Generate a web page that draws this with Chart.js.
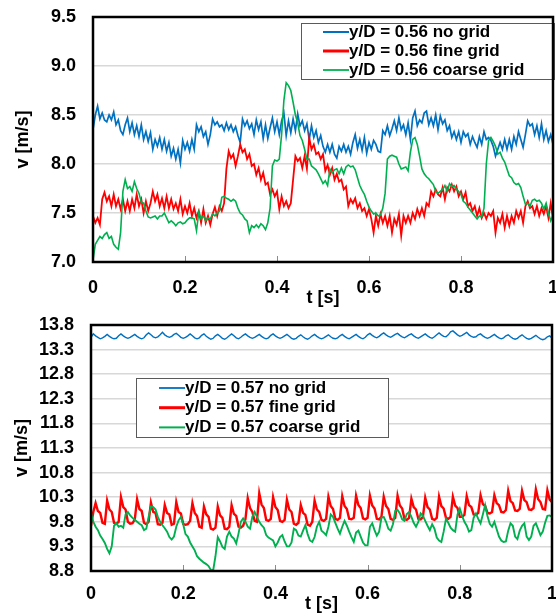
<!DOCTYPE html>
<html>
<head>
<meta charset="utf-8">
<script src="https://cdn.jsdelivr.net/npm/chart.js@4.4.1/dist/chart.umd.min.js"></script>
<style>
  html, body { margin: 0; padding: 0; background: #fff; }
  #wrap { position: relative; width: 556px; height: 616px; overflow: hidden; }
  canvas { position: absolute; left: 0; }
  #chartTop { top: 0; }
  #chartBottom { top: 300px; }
</style>
</head>
<body>
<div id="wrap">
  <canvas id="chartTop" width="556" height="310"></canvas>
  <canvas id="chartBottom" width="556" height="316"></canvas>
</div>
<script>
// sample times, 5 ms apart
const sampleStep = 0.005;
const t = Array.from({ length: 201 }, (_, i) => +(i * sampleStep).toFixed(3));

const xTicks = [0, 0.2, 0.4, 0.6, 0.8, 1];
const topYTicks = [7.0, 7.5, 8.0, 8.5, 9.0, 9.5];
const bottomYTicks = [8.8, 9.3, 9.8, 10.3, 10.8, 11.3, 11.8, 12.3, 12.8, 13.3, 13.8];

const topLabels = ['y/D = 0.56 no grid', 'y/D = 0.56 fine grid', 'y/D = 0.56 coarse grid'];
const bottomLabels = ['y/D = 0.57 no grid', 'y/D = 0.57 fine grid', 'y/D = 0.57 coarse grid'];

// y/D = 0.56
const topNoGrid = [
  8.35, 8.5, 8.59, 8.46, 8.52, 8.45, 8.43, 8.5, 8.45, 8.53, 8.4,
  8.45, 8.34, 8.3, 8.4, 8.47, 8.33, 8.42, 8.3, 8.39, 8.28,
  8.4, 8.25, 8.33, 8.23, 8.32, 8.15, 8.25, 8.18, 8.27, 8.15,
  8.25, 8.13, 8.22, 8.08, 8.16, 8.05, 8.15, 8.01, 8.24, 8.15,
  8.22, 8.13, 8.25, 8.15, 8.4, 8.33, 8.38, 8.28, 8.33, 8.2,
  8.3, 8.46, 8.4, 8.43, 8.38, 8.4, 8.34, 8.42, 8.35, 8.4,
  8.33, 8.38, 8.29, 8.22, 8.46, 8.39, 8.44, 8.36, 8.41, 8.3,
  8.45, 8.35, 8.43, 8.26, 8.4, 8.26, 8.37, 8.47, 8.33, 8.43,
  8.3, 8.44, 8.52, 8.29, 8.44, 8.32, 8.46, 8.34, 8.51, 8.39,
  8.44, 8.34, 8.41, 8.25, 8.39, 8.27, 8.34, 8.22, 8.29, 8.18,
  8.12, 8.2, 8.12, 8.2, 8.1, 8.06, 8.18, 8.13, 8.2, 8.12,
  8.18, 8.1, 8.22, 8.3, 8.16, 8.25, 8.14, 8.27, 8.11, 8.22,
  8.15, 8.24, 8.2, 8.13, 8.12, 8.34, 8.3, 8.39, 8.29, 8.36,
  8.44, 8.34, 8.47, 8.35, 8.4, 8.3, 8.42, 8.25, 8.47, 8.54,
  8.39, 8.45, 8.42, 8.52, 8.54, 8.4, 8.47, 8.39, 8.5, 8.35,
  8.49, 8.41, 8.45, 8.34, 8.39, 8.27, 8.33, 8.25, 8.33, 8.22,
  8.33, 8.28, 8.31, 8.2, 8.28, 8.22, 8.17, 8.28, 8.2, 8.33,
  8.25, 8.27, 8.24, 8.18, 8.08, 8.15, 8.22, 8.15, 8.25, 8.15,
  8.25, 8.15, 8.28, 8.2, 8.33, 8.25, 8.17, 8.3, 8.44, 8.39,
  8.41, 8.3, 8.39, 8.27, 8.41, 8.25, 8.34, 8.23, 8.3, 8.2
];
const topFine = [
  7.47, 7.4, 7.45, 7.38, 7.64, 7.71, 7.62, 7.67, 7.57, 7.69, 7.57,
  7.64, 7.54, 7.64, 7.52, 7.62, 7.52, 7.64, 7.55, 7.69, 7.57,
  7.64, 7.5, 7.62, 7.52, 7.6, 7.72, 7.62, 7.69, 7.57, 7.65,
  7.55, 7.67, 7.55, 7.64, 7.54, 7.6, 7.52, 7.64, 7.49, 7.57,
  7.5, 7.6, 7.47, 7.55, 7.45, 7.52, 7.4, 7.54, 7.4, 7.47,
  7.38, 7.49, 7.56, 7.47, 7.57, 7.52, 7.6, 7.95, 8.13, 8.06,
  8.1, 7.98, 8.08, 8.2, 8.12, 8.15, 8.05, 8.1, 7.98, 8.0,
  7.89, 7.96, 7.84, 7.91, 7.79, 7.81, 7.69, 7.74, 7.67, 7.72,
  7.54, 7.67, 7.57, 7.62, 7.55, 7.6, 7.84, 8.08, 8.03, 8.06,
  7.96, 8.08, 7.95, 8.27, 8.15, 8.2, 8.1, 8.12, 8.05, 8.1,
  7.93, 7.99, 7.89, 7.96, 7.84, 7.9, 7.82, 7.84, 7.74, 7.77,
  7.57, 7.64, 7.6, 7.65, 7.55, 7.6, 7.52, 7.55, 7.47, 7.54,
  7.44, 7.3, 7.47, 7.37, 7.49, 7.4, 7.47, 7.37, 7.47, 7.3,
  7.44, 7.38, 7.49, 7.27, 7.47, 7.4, 7.47, 7.4, 7.5, 7.44,
  7.54, 7.47, 7.55, 7.47, 7.6, 7.57, 7.72, 7.67, 7.74, 7.69,
  7.67, 7.76, 7.64, 7.76, 7.72, 7.79, 7.72, 7.77, 7.67, 7.72,
  7.64, 7.71, 7.57, 7.6, 7.52, 7.57, 7.47, 7.55, 7.45, 7.5,
  7.44, 7.5, 7.47, 7.52, 7.3, 7.45, 7.4, 7.49, 7.35, 7.47,
  7.37, 7.47, 7.4, 7.52, 7.45, 7.52, 7.4, 7.57, 7.62, 7.55,
  7.57, 7.49, 7.57, 7.47, 7.55, 7.49, 7.57, 7.45, 7.6, 7.44
];
const topCoarse = [
  7.02, 7.18, 7.22, 7.26, 7.24, 7.28, 7.3, 7.24, 7.26, 7.18, 7.15,
  7.13, 7.3, 7.72, 7.84, 7.75, 7.77, 7.72, 7.82, 7.75, 7.7,
  7.61, 7.6, 7.52, 7.46, 7.45, 7.46, 7.47, 7.44, 7.47, 7.47,
  7.5, 7.45, 7.4, 7.42, 7.4, 7.37, 7.4, 7.41, 7.39, 7.4,
  7.43, 7.45, 7.45, 7.44, 7.32, 7.51, 7.44, 7.47, 7.42, 7.45,
  7.44, 7.49, 7.47, 7.5, 7.52, 7.66, 7.67, 7.65, 7.64, 7.62,
  7.64, 7.62, 7.55, 7.5, 7.48, 7.44, 7.42, 7.3, 7.37, 7.35,
  7.38, 7.35, 7.39, 7.37, 7.33, 7.4, 7.55, 7.98, 8.04, 8.03,
  8.05, 8.3, 8.65, 8.83, 8.8, 8.75, 8.63, 8.5, 8.42, 8.29,
  8.24, 8.15, 8.05, 8.05, 7.98, 7.96, 7.94, 7.9, 7.85, 7.8,
  7.83, 7.78, 7.95, 7.91, 7.94, 7.95, 7.9, 7.96, 7.9, 7.97,
  7.99, 7.97, 7.98, 7.94, 7.86, 7.78, 7.73, 7.69, 7.62, 7.56,
  7.52, 7.49, 7.5, 7.47, 7.48, 7.55, 7.7, 8.05, 8.08, 8.09,
  8.08, 8.07, 8.0, 7.95, 7.96, 7.97, 7.93, 8.12, 8.25, 8.27,
  8.2, 8.08, 7.95, 7.9, 7.87, 7.85, 7.82, 7.79, 7.72, 7.7,
  7.72, 7.74, 7.78, 7.72, 7.8, 7.77, 7.78, 7.74, 7.72, 7.69,
  7.62, 7.6, 7.56, 7.53, 7.5, 7.47, 7.44, 7.47, 7.46, 7.55,
  8.0, 8.24, 8.27, 8.23, 8.18, 8.1, 8.12, 8.06, 8.02, 7.95,
  7.88, 7.86, 7.81, 7.79, 7.8, 7.76, 7.67, 7.59, 7.6, 7.57,
  7.63, 7.64, 7.62, 7.63, 7.6, 7.54, 7.6, 7.5, 7.42, 7.48
];

// y/D = 0.57
const bottomNoGrid = [
  13.55, 13.62, 13.58, 13.55, 13.52, 13.54, 13.57, 13.61, 13.57, 13.54, 13.52, 13.53,
  13.58, 13.62, 13.58, 13.55, 13.53, 13.55, 13.58, 13.61, 13.57, 13.54, 13.52, 13.54,
  13.6, 13.64, 13.6, 13.56, 13.54, 13.56, 13.6, 13.65, 13.6, 13.57, 13.55, 13.57,
  13.61, 13.63, 13.59, 13.55, 13.53, 13.55, 13.58, 13.62, 13.58, 13.54, 13.52, 13.54,
  13.59, 13.62, 13.57, 13.54, 13.51, 13.53, 13.58, 13.61, 13.57, 13.53, 13.51, 13.54,
  13.58, 13.62, 13.58, 13.54, 13.52, 13.55, 13.59, 13.62, 13.58, 13.55, 13.53, 13.55,
  13.58, 13.61, 13.57, 13.54, 13.52, 13.54, 13.59, 13.62, 13.58, 13.55, 13.53, 13.55,
  13.58, 13.61, 13.57, 13.53, 13.51, 13.53, 13.57, 13.6, 13.56, 13.53, 13.51, 13.54,
  13.58, 13.61, 13.57, 13.54, 13.52, 13.54, 13.57, 13.6, 13.56, 13.53, 13.52, 13.54,
  13.58, 13.61, 13.57, 13.54, 13.52, 13.55, 13.58, 13.61, 13.57, 13.54, 13.52, 13.55,
  13.6, 13.63, 13.59, 13.56, 13.54, 13.57, 13.61, 13.64, 13.6, 13.57, 13.55, 13.58,
  13.61, 13.63, 13.59, 13.56, 13.54, 13.57, 13.6, 13.62, 13.58, 13.55, 13.53, 13.56,
  13.59, 13.62, 13.58, 13.55, 13.53, 13.56, 13.6, 13.64, 13.6, 13.57, 13.56, 13.6,
  13.66, 13.68, 13.64, 13.6, 13.57, 13.59, 13.62, 13.65, 13.6, 13.57, 13.55, 13.56,
  13.6, 13.62, 13.58, 13.55, 13.53, 13.55, 13.58, 13.61, 13.57, 13.54, 13.52, 13.54,
  13.58, 13.6, 13.56, 13.53, 13.51, 13.53, 13.57, 13.6, 13.56, 13.53, 13.51, 13.53,
  13.56, 13.59, 13.55, 13.52, 13.5, 13.52, 13.56, 13.58, 13.53
];
const bottomFine = [
  9.72, 10.0, 10.18, 10.02, 9.98, 9.78, 9.76, 10.23, 10.05, 10.0, 9.78,
  9.76, 9.8, 10.3, 10.1, 10.05, 9.8, 9.76, 9.77, 9.85, 10.26,
  10.06, 10.02, 9.78, 9.75, 9.8, 10.19, 10.0, 9.98, 9.75, 9.74,
  9.78, 10.14, 9.98, 9.95, 9.74, 9.76, 10.2, 10.0, 9.97, 9.76,
  9.74, 9.75, 9.82, 10.18, 9.98, 9.92, 9.7, 9.68, 10.11, 9.95,
  9.9, 9.66, 9.64, 9.68, 10.11, 9.93, 9.88, 9.66, 9.65, 9.7,
  10.14, 9.96, 9.92, 9.7, 9.68, 9.72, 9.85, 10.28, 10.08, 10.0,
  9.82, 9.8, 10.38, 10.15, 10.08, 9.84, 9.82, 9.86, 10.3, 10.1,
  10.04, 9.82, 9.8, 9.84, 10.25, 10.05, 10.0, 9.76, 9.74, 9.78,
  10.14, 9.98, 9.94, 9.74, 9.72, 9.8, 10.23, 10.05, 10.0, 9.84,
  9.82, 9.86, 10.31, 10.12, 10.06, 9.86, 9.84, 9.88, 10.32, 10.12,
  10.06, 9.86, 9.85, 9.88, 10.33, 10.14, 10.08, 9.87, 9.85, 9.88,
  10.33, 10.13, 10.07, 9.86, 9.85, 9.9, 10.31, 10.12, 10.06, 9.86,
  9.84, 9.88, 10.33, 10.13, 10.07, 9.86, 9.84, 9.88, 10.27, 10.1,
  10.05, 9.86, 9.85, 9.9, 10.29, 10.1, 10.05, 9.86, 9.84, 9.88,
  10.31, 10.12, 10.07, 9.88, 9.86, 9.9, 10.31, 10.13, 10.08, 9.9,
  9.9, 9.94, 10.32, 10.14, 10.1, 9.95, 9.94, 9.98, 10.34, 10.16,
  10.12, 9.98, 9.97, 10.0, 10.34, 10.18, 10.14, 10.0, 9.99, 10.04,
  10.43, 10.22, 10.18, 10.03, 10.02, 10.06, 10.43, 10.24, 10.2, 10.05,
  10.04, 10.08, 10.46, 10.26, 10.2, 10.06, 10.05, 10.44, 10.25, 10.2
];
const bottomCoarse = [
  9.98, 9.8, 9.7, 9.63, 9.52, 9.45, 9.37, 9.25, 9.16, 9.3, 9.72,
  9.77, 9.7, 9.72, 9.68, 9.95, 10.0, 9.93, 9.88, 9.84, 9.8,
  9.76, 9.73, 9.63, 9.66, 9.9, 10.11, 10.1, 10.05, 9.9, 9.8,
  9.73, 9.67, 9.6, 9.49, 9.44, 9.5, 9.7, 9.83, 9.9, 9.75,
  9.55, 9.5, 9.38, 9.3, 9.22, 9.1, 9.05, 9.01, 8.97, 8.94,
  8.9, 8.82, 8.81, 9.1, 9.49, 9.4, 9.29, 9.25, 9.5, 9.6,
  9.5, 9.46, 9.36, 9.56, 9.8, 9.87, 9.8, 9.7, 9.66, 9.9,
  10.0, 9.9, 9.8, 9.73, 9.68, 9.53, 9.48, 9.45, 9.42, 9.3,
  9.38, 9.49, 9.53, 9.4, 9.3, 9.3, 9.38, 9.66, 9.63, 9.52,
  9.5, 9.62, 9.73, 9.55, 9.42, 9.39, 9.49, 9.7, 9.8, 9.62,
  9.58, 9.53, 9.7, 9.95, 9.9, 9.78, 9.66, 9.56, 9.7, 9.82,
  9.72, 9.6, 9.49, 9.39, 9.58, 9.62, 9.5, 9.38, 9.32, 9.32,
  9.7, 9.77, 9.63, 9.52, 9.6, 9.88, 9.9, 9.8, 9.66, 9.62,
  9.75, 10.02, 10.04, 9.97, 9.85, 9.82, 9.96, 10.0, 9.9, 9.78,
  9.7, 9.8, 9.97, 9.92, 9.82, 9.72, 9.63, 9.75, 9.66, 9.48,
  9.42, 9.39, 9.6, 9.86, 9.78, 9.68, 9.63, 9.6, 9.95, 10.07,
  9.92, 9.8, 9.72, 9.6, 9.63, 9.88, 9.97, 9.86, 9.77, 9.95,
  10.14, 9.92, 9.76, 9.7, 9.8, 9.65, 9.5, 9.42, 9.39, 9.4,
  9.62, 9.77, 9.72, 9.5, 9.45, 9.62, 9.72, 9.77, 9.5, 9.43,
  9.5, 9.72, 9.77, 9.65, 9.53, 9.6, 9.78, 9.92, 9.93, 9.9
];

const colors = ['#0070C0', '#FF0000', '#00B050'];
const font = { family: '"Liberation Sans", Arial, sans-serif', weight: 'bold', size: 18 };

// black frame around the plot, short inward tick marks on the time axis,
// and a boxed legend placed inside the plot
const frameLegend = {
  id: 'frameLegend',
  afterDraw(chart, args, opts) {
    const ctx = chart.ctx;
    const a = chart.chartArea;
    const xs = chart.scales.x;
    ctx.save();

    ctx.strokeStyle = '#8c8c8c';
    ctx.lineWidth = 1;
    xs.ticks.forEach(tk => {
      const px = Math.round(xs.getPixelForValue(tk.value)) + 0.5;
      ctx.beginPath();
      ctx.moveTo(px, a.bottom);
      ctx.lineTo(px, a.bottom - 6);
      ctx.stroke();
    });

    const b = opts.box;
    ctx.fillStyle = '#fff';
    ctx.fillRect(b.x, b.y, b.w, b.h);
    ctx.strokeStyle = '#5a5a5a';
    ctx.lineWidth = 1;
    ctx.strokeRect(b.x + 0.5, b.y + 0.5, b.w, b.h);

    ctx.font = 'bold 17px "Liberation Sans", Arial, sans-serif';
    ctx.textBaseline = 'middle';
    ctx.textAlign = 'left';
    chart.data.datasets.forEach((ds, i) => {
      const y = b.rowY + i * b.rowGap;
      ctx.strokeStyle = ds.borderColor;
      ctx.lineWidth = opts.keyWidths[i];
      ctx.beginPath();
      ctx.moveTo(b.keyX1, y);
      ctx.lineTo(b.keyX2, y);
      ctx.stroke();
      ctx.fillStyle = '#000';
      ctx.fillText(ds.label, b.keyX2, y);
    });

    ctx.strokeStyle = '#000';
    ctx.lineWidth = 2.5;
    ctx.strokeRect(a.left, a.top, a.right - a.left, a.bottom - a.top);
    ctx.restore();
  }
};

function series(labels, arrays, widths) {
  return arrays.map((arr, k) => ({
    label: labels[k],
    data: t.map((x, i) => ({ x: x, y: arr[i] })),
    borderColor: colors[k],
    borderWidth: widths[k],
    pointRadius: 0,
    tension: 0,
    fill: false,
    order: 3 - k
  }));
}

function makeOptions(c) {
  return {
    responsive: false,
    animation: false,
    devicePixelRatio: 1,
    layout: { padding: { top: c.padTop, right: c.padRight, left: 0, bottom: 0 } },
    plugins: {
      legend: { display: false },
      tooltip: { enabled: false },
      frameLegend: c.legend
    },
    scales: {
      x: {
        type: 'linear',
        min: 0,
        max: 1,
        afterBuildTicks: s => { s.ticks = xTicks.map(v => ({ value: v })); },
        // fixed axis height; labels may overhang the plot edges
        afterFit: s => { s.height = c.xHeight; s.paddingLeft = 0; s.paddingRight = 0; },
        grid: { display: false },
        border: { display: false },
        ticks: { padding: c.xTickPad, color: '#000', font: font, maxRotation: 0, autoSkip: false, callback: v => String(v) },
        title: { display: true, text: 't [s]', color: '#000', font: font, padding: { top: 0, bottom: c.xTitlePad } }
      },
      y: {
        type: 'linear',
        min: c.yTicks[0],
        max: c.yTicks[c.yTicks.length - 1],
        afterBuildTicks: s => { s.ticks = c.yTicks.map(v => ({ value: v })); },
        afterFit: s => { s.width = c.yWidth; s.paddingTop = 0; s.paddingBottom = 0; },
        grid: { color: '#d8d8d8', lineWidth: 1.5, drawTicks: false },
        border: { display: false },
        ticks: { padding: 17, color: '#000', font: font, autoSkip: false, callback: v => v.toFixed(1) },
        title: { display: true, text: 'v [m/s]', color: '#000', font: font, padding: { top: c.yTitlePad, bottom: 0 } }
      }
    }
  };
}

new Chart(document.getElementById('chartTop'), {
  type: 'line',
  data: { datasets: series(topLabels, [topNoGrid, topFine, topCoarse], [1.7, 1.8, 1.6]) },
  options: makeOptions({
    padTop: 17, padRight: 3, yWidth: 93, xHeight: 48,
    xTickPad: 7.5, xTitlePad: 1, yTitlePad: 12,
    yTicks: topYTicks,
    legend: {
      box: { x: 301, y: 23, w: 253, h: 56, keyX1: 323, keyX2: 349, rowY: 32, rowGap: 19 },
      keyWidths: [2, 3, 1.8]
    }
  }),
  plugins: [frameLegend]
});

new Chart(document.getElementById('chartBottom'), {
  type: 'line',
  data: { datasets: series(bottomLabels, [bottomNoGrid, bottomFine, bottomCoarse], [1.4, 2.4, 1.9]) },
  options: makeOptions({
    padTop: 25, padRight: 4, yWidth: 91, xHeight: 45,
    xTickPad: 4, xTitlePad: 1, yTitlePad: 11,
    yTicks: bottomYTicks,
    legend: {
      box: { x: 136, y: 78, w: 252, h: 59, keyX1: 159, keyX2: 185, rowY: 88, rowGap: 19.7 },
      keyWidths: [1.8, 3, 2]
    }
  }),
  plugins: [frameLegend]
});
</script>
</body>
</html>
